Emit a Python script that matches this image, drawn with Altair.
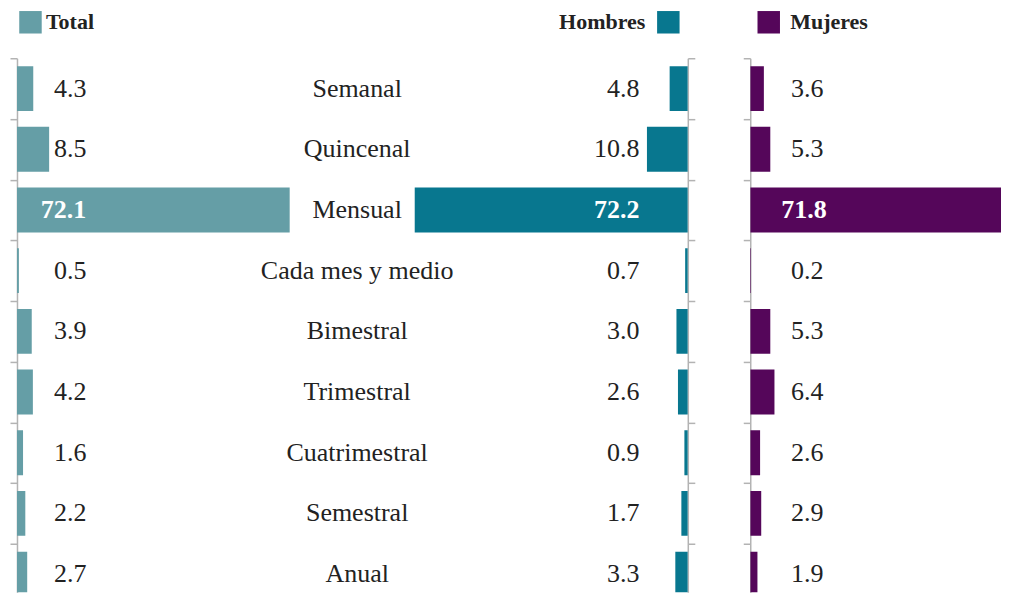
import altair as alt
import pandas as pd

categories = ["Semanal", "Quincenal", "Mensual", "Cada mes y medio", "Bimestral",
              "Trimestral", "Cuatrimestral", "Semestral", "Anual"]
total = [4.3, 8.5, 72.1, 0.5, 3.9, 4.2, 1.6, 2.2, 2.7]
hombres = [4.8, 10.8, 72.2, 0.7, 3.0, 2.6, 0.9, 1.7, 3.3]
mujeres = [3.6, 5.3, 71.8, 0.2, 5.3, 6.4, 2.6, 2.9, 1.9]

df = pd.DataFrame({"cat": categories, "idx": list(range(len(categories))),
                   "total": total, "hombres": hombres, "mujeres": mujeres})

STEP = 60.75
Y_END = 8.3
H = (Y_END + 0.5) * STEP
PX = 3.786
DOM = 72.5
W = DOM * PX
WM = 251
DOM_M = WM / PX

FONT = "Liberation Serif"
TXT = "#222222"
AX = "#b3b3b3"

YS = alt.Scale(domain=[-0.5, Y_END], reverse=True, nice=False, zero=False)
TICKS = [i - 0.5 for i in range(len(categories))]


def yax(orient):
    return alt.Axis(orient=orient, labels=False, title=None, values=TICKS,
                    tickSize=7, domainColor=AX, tickColor=AX, domainWidth=1.5,
                    tickWidth=1.5, grid=False)


def panel(field, name, color, reverse, orient, small_pos, big_pos, align, legend,
          dom=DOM, width=W):
    xs = alt.Scale(domain=[0, dom], reverse=reverse, nice=False, zero=True)
    base = alt.Chart(df).transform_calculate(serie=f"'{name}'")
    bars = base.transform_calculate(
        y0="datum.idx - 0.37", y1="datum.idx + 0.37").mark_bar(clip=True).encode(
        x=alt.X(f"{field}:Q", scale=xs, axis=None),
        x2=alt.datum(0),
        y=alt.Y("y0:Q", scale=YS, axis=yax(orient)),
        y2="y1:Q",
        color=alt.Color("serie:N", scale=alt.Scale(domain=[name], range=[color]), legend=legend),
    )
    small = base.transform_filter(f"datum.{field} <= 50").transform_calculate(
        lx=str(small_pos)).mark_text(
        font=FONT, fontSize=26, align=align, baseline="middle", color=TXT).encode(
        x=alt.X("lx:Q", scale=xs, axis=None),
        y=alt.Y("idx:Q", scale=YS, axis=yax(orient)),
        text=alt.Text(f"{field}:Q", format=".1f"),
    )
    big = base.transform_filter(f"datum.{field} > 50").transform_calculate(
        lx=str(big_pos)).mark_text(
        font=FONT, fontSize=26, fontWeight="bold", align=align, baseline="middle",
        color="white").encode(
        x=alt.X("lx:Q", scale=xs, axis=None),
        y=alt.Y("idx:Q", scale=YS, axis=yax(orient)),
        text=alt.Text(f"{field}:Q", format=".1f"),
    )
    return alt.layer(bars, small, big).properties(width=width, height=H)


def leg(x, y, align="left", offset=6):
    return alt.Legend(title=None, orient="none", legendX=x, legendY=y, padding=0,
                      symbolType="square", symbolSize=506, symbolStrokeWidth=0,
                      symbolOpacity=1, labelFont=FONT, labelFontSize=22,
                      labelFontWeight="bold", labelColor=TXT, labelAlign=align,
                      labelOffset={"expr": str(offset)}, labelLimit=300)


p_total = panel("total", "Total", "#659ea6", False, "left", 9.8, 6.3, "left",
                leg(2, -47.5, "left", 4))
p_h = panel("hombres", "Hombres", "#08778f", True, "right", 12.8, 12.8, "right",
            leg(243.5, -47.5, "right", -34.5))
p_m = panel("mujeres", "Mujeres", "#55065a", False, "left", 10.8, 8.2, "left",
            leg(7, -47.5, "left", 10), dom=DOM_M, width=WM)

mid = alt.Chart(df).mark_text(font=FONT, fontSize=26, color=TXT, baseline="middle").encode(
    y=alt.Y("idx:Q", scale=YS, axis=None),
    text="cat:N",
    x=alt.value(65.5),
).properties(width=121.5, height=H)

gap = alt.Chart(df).mark_point(opacity=0).encode(
    x=alt.value(0), y=alt.value(0)).properties(width=61.5, height=H)

chart = alt.hconcat(p_total, mid, p_h, gap, p_m, spacing=0, bounds="flush").resolve_scale(
    x="independent", y="independent", color="independent").resolve_legend(
    color="independent").properties(
    padding={"left": 1, "top": 2, "right": 0, "bottom": 0}
).configure_view(strokeWidth=0)

chart.save("out.html", embed_options={"renderer": "svg", "actions": False})
